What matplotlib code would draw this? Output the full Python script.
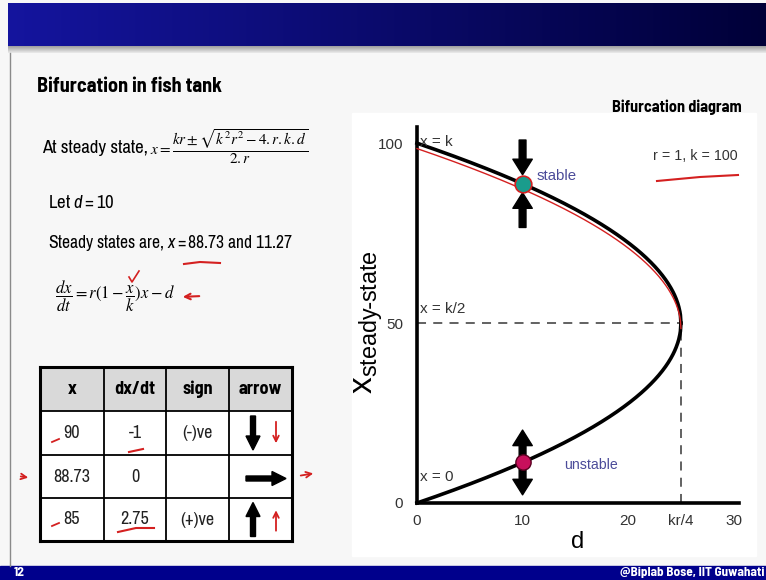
import numpy as np
import matplotlib
matplotlib.use('Agg')
import matplotlib.pyplot as plt
from matplotlib.patches import Rectangle

SANS = ['Liberation Sans', 'DejaVu Sans']
NARROW = ['Archivo Narrow', 'Liberation Sans', 'DejaVu Sans']
NARROW_B = ['Barlow Semi Condensed', 'Liberation Sans', 'DejaVu Sans']
plt.rcParams['font.family'] = SANS
plt.rcParams['mathtext.fontset'] = 'custom'
plt.rcParams['mathtext.rm'] = 'Archivo Narrow'
plt.rcParams['mathtext.it'] = 'Archivo Narrow:italic'

# model parameters
r_growth = 1
k_cap = 100
d_example = 10
x_stable = 88.73
x_unstable = 11.27

# stability table
tab_header = ['x', 'dx/dt', 'sign', 'arrow']
tab_x = ['90', '88.73', '85']
tab_rate = ['-1', '0', '2.75']
tab_sign = ['(-)ve', '', '(+)ve']
tab_dir = ['down', 'right', 'up']

# axis ticks
xtick_vals = [0, 10, 20, 25, 30]
xtick_labels = ['0', '10', '20', 'kr/4', '30']
ytick_vals = [0, 50, 100]

W, H = 766, 580
fig = plt.figure(figsize=(W / 100, H / 100), dpi=100)

# slide layer in pixel coordinates
ov = fig.add_axes([0, 0, 1, 1])
ov.set_xlim(0, W)
ov.set_ylim(H, 0)
ov.axis('off')
ov.add_patch(Rectangle((0, 0), W, H, color='#f7f7f7', zorder=0))

# header bar gradient
grad = np.linspace(0, 1, 256)
c0 = np.array([0.08, 0.08, 0.62])
c1 = np.array([0.0, 0.0, 0.22])
band = (c0[None, :] * (1 - grad[:, None]) + c1[None, :] * grad[:, None])[None, :, :]
ov.imshow(band, extent=[8, W, 46, 3], aspect='auto', zorder=1)
shadow = np.linspace(0.62, 0.92, 20)
ov.imshow(np.repeat(shadow[:, None], 3, axis=1)[:, None, :].repeat(2, axis=1),
          extent=[8, W, 53, 46], aspect='auto', zorder=1)
ov.add_patch(Rectangle((0, 566), W, 14, color='#00008c', zorder=1))
ov.plot([10, 10], [53, 566], color='#8a8a8a', lw=1, zorder=1)
ov.add_patch(Rectangle((352, 113), 404, 443, color='white', zorder=1))
ov.text(14, 573, '12', color='white', fontsize=9.5, fontweight='bold', va='center',
        family=NARROW_B, zorder=3)
ov.text(764, 573, '@Biplab Bose, IIT Guwahati', color='white', fontsize=9.5,
        fontweight='bold', va='center', ha='right', family=NARROW_B, zorder=3)

# left side text
ov.text(37, 86, 'Bifurcation in fish tank', fontsize=14.5, fontweight='bold', va='center',
        family=NARROW_B, zorder=3)
ov.text(42, 148, 'At steady state,', fontsize=13.5, va='center', family=NARROW, zorder=3)
ov.text(150, 147, r'$x = \dfrac{kr \pm \sqrt{k^2r^2 - 4.r.k.d}}{2.r}$', fontsize=11,
        va='center', math_fontfamily='stix', zorder=3)
ov.text(48, 202, r'Let $\mathit{d = 10}$', fontsize=13.5, va='center', family=NARROW, zorder=3)
ov.text(48, 243, r'Steady states are, $\mathit{x = 88.73}$ and $\mathit{11.27}$',
        fontsize=12.6, va='center', family=NARROW, zorder=3)
ov.text(55, 296, r'$\dfrac{dx}{dt} = r(1-\dfrac{x}{k})x - d$', fontsize=12,
        va='center', math_fontfamily='stix', zorder=3)
ov.text(612, 107, 'Bifurcation diagram', fontsize=11.6, fontweight='bold', va='center',
        family=NARROW_B, zorder=3)

# red pen marks
red = '#d42020'
ov.plot([184, 200, 220], [264, 262, 263], color=red, lw=1.5, zorder=4)
ov.annotate('', xy=(180, 297), xytext=(202, 296),
            arrowprops=dict(arrowstyle='->', color=red, lw=1.5), zorder=4)
ov.plot([129, 132, 139], [277, 282, 271], color=red, lw=1.2, zorder=4)

# table
cols = [40, 104, 166, 229, 292]
rows = [367, 411, 455, 498, 541]
ov.add_patch(Rectangle((cols[0], rows[0]), cols[-1] - cols[0], rows[1] - rows[0],
                       color='#d9d9d9', zorder=2))
ov.add_patch(Rectangle((cols[0], rows[1]), cols[-1] - cols[0], rows[-1] - rows[1],
                       color='white', zorder=2))
for i, c in enumerate(cols):
    ov.plot([c, c], [rows[0], rows[-1]], color='k', lw=2.2 if i in (0, 4) else 1.3, zorder=3)
for i, rr in enumerate(rows):
    ov.plot([cols[0], cols[-1]], [rr, rr], color='k', lw=2.2 if i in (0, 4) else 1.3, zorder=3)
for j, h in enumerate(tab_header):
    ov.text((cols[j] + cols[j + 1]) / 2, (rows[0] + rows[1]) / 2, h, fontsize=13,
            fontweight='bold', ha='center', va='center', family=NARROW_B, zorder=4)
for i in range(3):
    yc = (rows[i + 1] + rows[i + 2]) / 2
    for j, s in enumerate([tab_x[i], tab_rate[i], tab_sign[i]]):
        ov.text((cols[j] + cols[j + 1]) / 2, yc, s, fontsize=13, color='#222222',
                ha='center', va='center', family=NARROW, zorder=4)
    if tab_dir[i] == 'down':
        ov.arrow(253, yc - 17, 0, 34, width=5, head_width=14, head_length=14,
                 length_includes_head=True, color='k', zorder=4)
        ov.annotate('', xy=(276, yc + 13), xytext=(276, yc - 14),
                    arrowprops=dict(arrowstyle='->', color=red, lw=1.3), zorder=4)
    elif tab_dir[i] == 'right':
        ov.arrow(246, yc + 2, 40, 0, width=5, head_width=14, head_length=14,
                 length_includes_head=True, color='k', zorder=4)
    else:
        ov.arrow(253, yc + 17, 0, -34, width=5, head_width=14, head_length=14,
                 length_includes_head=True, color='k', zorder=4)
        ov.annotate('', xy=(276, yc - 12), xytext=(276, yc + 14),
                    arrowprops=dict(arrowstyle='->', color=red, lw=1.3), zorder=4)
ov.annotate('', xy=(31, 478), xytext=(18, 476),
            arrowprops=dict(arrowstyle='->', color=red, lw=1.3), zorder=4)
ov.annotate('', xy=(316, 473), xytext=(298, 476),
            arrowprops=dict(arrowstyle='->', color=red, lw=1.3), zorder=4)
for x0, y0 in [(52, 440), (52, 524)]:
    ov.plot([x0, x0 + 7], [y0 + 2, y0 - 1], color=red, lw=1.3, zorder=4)
ov.plot([129, 143], [452, 449], color=red, lw=1.5, zorder=4)
ov.plot([118, 136, 154], [532, 528, 528], color=red, lw=1.5, zorder=4)
ov.plot([657, 700, 738], [181, 177, 175], color=red, lw=1.5, zorder=4)

# bifurcation diagram
ax = fig.add_axes([417 / W, (H - 503) / H, 322 / W, 376 / H])
ax.set_facecolor('none')
d_crit = k_cap * r_growth / 4
dd = np.linspace(0, d_crit, 500)
disc = np.sqrt(np.clip((k_cap * r_growth) ** 2 - 4 * r_growth * k_cap * dd, 0, None))
x_hi = (k_cap * r_growth + disc) / (2 * r_growth)
x_lo = (k_cap * r_growth - disc) / (2 * r_growth)
ax.plot(dd, x_hi, color='k', lw=2.6, zorder=3, clip_on=False)
ax.plot(dd, x_lo, color='k', lw=2.6, zorder=3, clip_on=False)
ax.plot(dd, x_hi - 1.5, color=red, lw=1, zorder=4, clip_on=False)
ax.plot([0, d_crit], [k_cap / 2, k_cap / 2], ls=(0, (5, 4)), color='#555555', lw=1.3)
ax.plot([d_crit, d_crit], [0, k_cap / 2], ls=(0, (5, 4)), color='#555555', lw=1.3)

ax.plot(d_example, x_stable, 'o', ms=12, mfc='#1a9c8c', mec=red, mew=1.2, zorder=6)
ax.plot(d_example, x_unstable, 'o', ms=11, mfc='#c8105c', mec='#5a0020', mew=1, zorder=6)
arr = dict(arrowstyle='simple,head_length=0.8,head_width=1.0,tail_width=0.35',
           fc='k', ec='k', mutation_scale=14, shrinkA=0, shrinkB=0)
ax.annotate('', xy=(d_example, x_stable + 2.5), xytext=(0, 25), textcoords='offset points',
            arrowprops=arr, zorder=5)
ax.annotate('', xy=(d_example, x_stable - 2.5), xytext=(0, -25), textcoords='offset points',
            arrowprops=arr, zorder=5)
ax.annotate('', xy=(d_example, x_unstable + 9), xytext=(d_example, x_unstable),
            arrowprops=arr, zorder=5)
ax.annotate('', xy=(d_example, x_unstable - 9), xytext=(d_example, x_unstable),
            arrowprops=arr, zorder=5)

ax.text(0.3, 100.2, 'x = k', fontsize=11, color='#333333', va='center')
ax.text(0.3, 54, 'x = k/2', fontsize=11, color='#333333', va='center')
ax.text(0.3, 7.3, 'x = 0', fontsize=11, color='#333333', va='center')
ax.text(11.3, 91, 'stable', fontsize=10.8, color='#4b4b99', va='center')
ax.text(13.9, 10.5, 'unstable', fontsize=10.2, color='#4b4b99', va='center')
ax.text(22.4, 96.5, 'r = 1, k = 100', fontsize=10.3, color='#333333', va='center')

ax.set_xlim(0, 30.5)
ax.set_ylim(0, 104.5)
ax.set_xticks(xtick_vals)
ax.set_xticklabels(xtick_labels)
ax.set_yticks(ytick_vals)
ax.tick_params(length=0, labelsize=11, labelcolor='#333333')
ax.tick_params(axis='x', pad=8)
ax.tick_params(axis='y', pad=10)
for s in ['top', 'right']:
    ax.spines[s].set_visible(False)
for s in ['left', 'bottom']:
    ax.spines[s].set_linewidth(2.6)
ax.set_xlabel('d', fontsize=17, labelpad=2)
ax.set_ylabel(r'x$_{\mathregular{steady\text{-}state}}$', fontsize=24, va='center')
ax.yaxis.set_label_coords(-0.15, 0.48)

fig.savefig('out.png', dpi=100)
